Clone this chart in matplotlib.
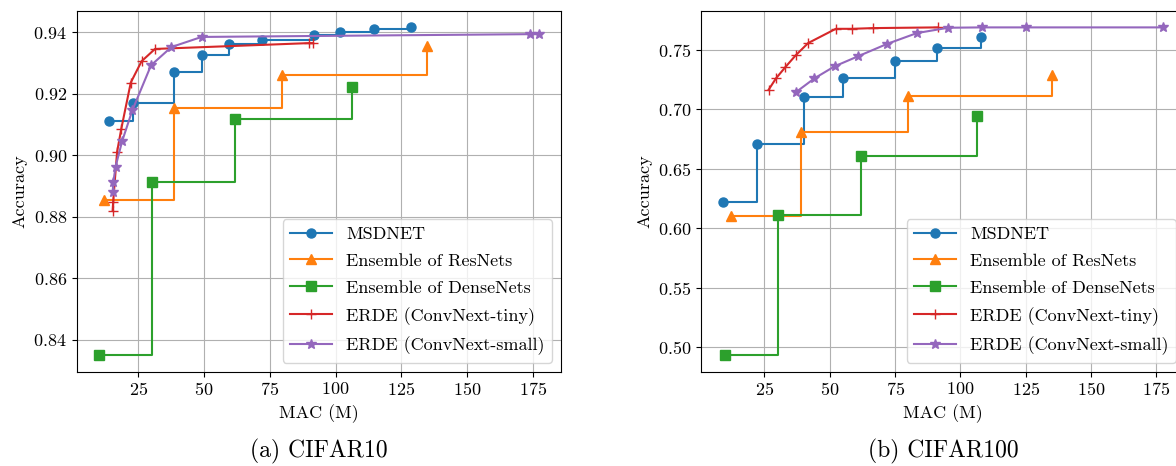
import matplotlib
matplotlib.use("Agg")
import matplotlib.pyplot as plt

plt.rcParams['font.family'] = 'serif'
plt.rcParams['font.serif'] = ['cmr10']
plt.rcParams['mathtext.fontset'] = 'cm'
plt.rcParams['axes.formatter.use_mathtext'] = True
plt.rcParams['font.size'] = 13

labels = ['MSDNET', 'Ensemble of ResNets', 'Ensemble of DenseNets',
          'ERDE (ConvNext-tiny)', 'ERDE (ConvNext-small)']

# CIFAR10
c10_msd_x = [13.8, 22.9, 38.8, 49.1, 59.4, 71.9, 91.7, 101.8, 114.8, 128.8]
c10_msd_y = [0.911, 0.917, 0.927, 0.9325, 0.936, 0.9375, 0.939, 0.940, 0.941, 0.9415]
c10_res_x = [12.0, 38.8, 79.7, 134.9]
c10_res_y = [0.8855, 0.9152, 0.9261, 0.9353]
c10_dense_x = [10.0, 30.3, 61.8, 106.2]
c10_dense_y = [0.835, 0.8914, 0.9118, 0.9223]
c10_tiny_x = [15.3, 15.5, 17.0, 18.6, 22.2, 26.3, 31.4, 90.1, 91.3]
c10_tiny_y = [0.882, 0.8847, 0.9011, 0.9086, 0.9236, 0.9305, 0.9345, 0.9364, 0.9364]
c10_small_x = [15.3, 15.6, 16.4, 18.9, 22.8, 29.9, 37.6, 49.1, 173.8, 177.2]
c10_small_y = [0.888, 0.8914, 0.8962, 0.9045, 0.9146, 0.9292, 0.9351, 0.9384, 0.9393, 0.9393]

# CIFAR100
c100_msd_x = [9.0, 22.3, 40.1, 55.0, 75.0, 90.9, 107.7]
c100_msd_y = [0.6216, 0.6707, 0.7105, 0.7262, 0.7402, 0.7514, 0.7606]
c100_res_x = [12.3, 39.0, 79.8, 135.0]
c100_res_y = [0.6104, 0.6808, 0.7108, 0.729]
c100_dense_x = [9.9, 30.3, 61.8, 106.3]
c100_dense_y = [0.493, 0.6112, 0.6609, 0.6945]
c100_tiny_x = [26.6, 29.4, 33.0, 36.9, 41.7, 52.3, 58.5, 66.5, 91.3]
c100_tiny_y = [0.7164, 0.7259, 0.7354, 0.7452, 0.7556, 0.7676, 0.7676, 0.7682, 0.7688]
c100_small_x = [37.1, 44.1, 51.8, 60.7, 71.8, 83.3, 95.3, 108.1, 124.9, 177.4]
c100_small_y = [0.7144, 0.7259, 0.736, 0.7444, 0.7548, 0.764, 0.7685, 0.7688, 0.7688, 0.7688]


def draw(ax, msd, res, dense, tiny, small):
    ax.plot(*msd, marker='o', markersize=6.5, drawstyle='steps-post', label=labels[0])
    ax.plot(*res, marker='^', markersize=6.5, drawstyle='steps-post', label=labels[1])
    ax.plot(*dense, marker='s', markersize=6.5, drawstyle='steps-post', label=labels[2])
    ax.plot(*tiny, marker='+', markersize=7, label=labels[3])
    ax.plot(*small, marker='*', markersize=7, label=labels[4])
    ax.grid(True)
    ax.set_xlabel('MAC (M)')
    ax.set_ylabel('Accuracy')
    ax.legend(loc='lower right', labelspacing=0.62, handlelength=2.3)


fig = plt.figure(figsize=(11.76, 4.66), dpi=100)
ax1 = fig.add_axes([0.0652, 0.2024, 0.4116, 0.774])
ax2 = fig.add_axes([0.5958, 0.2024, 0.4116, 0.774])

draw(ax1, (c10_msd_x, c10_msd_y), (c10_res_x, c10_res_y), (c10_dense_x, c10_dense_y),
     (c10_tiny_x, c10_tiny_y), (c10_small_x, c10_small_y))
draw(ax2, (c100_msd_x, c100_msd_y), (c100_res_x, c100_res_y), (c100_dense_x, c100_dense_y),
     (c100_tiny_x, c100_tiny_y), (c100_small_x, c100_small_y))

ax1.set_xticks([25, 50, 75, 100, 125, 150, 175])
ax2.set_xticks([25, 50, 75, 100, 125, 150, 175])

fig.text(318.9 / 1176, 1 - 451.7 / 466, '(a) CIFAR10', ha='center', va='center', fontsize=17)
fig.text(942.9 / 1176, 1 - 451.7 / 466, '(b) CIFAR100', ha='center', va='center', fontsize=17)

fig.savefig('out.png', dpi=100)
